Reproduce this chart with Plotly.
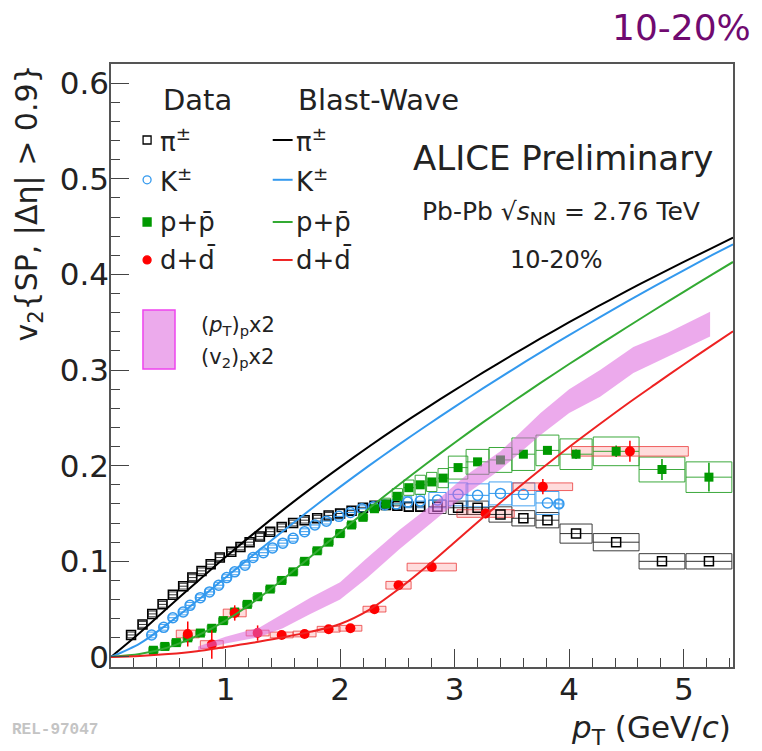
import plotly.graph_objects as go

# ---------------- data ----------------
pi_pt = [0.175, 0.275, 0.36, 0.45, 0.54, 0.63, 0.71, 0.79, 0.87, 0.95, 1.05, 1.13, 1.21, 1.30,
         1.39, 1.49, 1.59, 1.69, 1.80, 1.90, 2.00, 2.10, 2.20, 2.30, 2.40, 2.50, 2.60, 2.70,
         2.85, 3.03, 3.20, 3.40, 3.60, 3.81, 4.06, 4.41, 4.81, 5.22]
pi_v2 = [0.023, 0.034, 0.045, 0.055, 0.065, 0.074, 0.083, 0.090, 0.097, 0.104, 0.110, 0.115,
         0.120, 0.126, 0.131, 0.136, 0.140, 0.143, 0.145, 0.148, 0.150, 0.153, 0.156, 0.158,
         0.159, 0.158, 0.157, 0.157, 0.157, 0.156, 0.156, 0.149, 0.145, 0.143, 0.129, 0.120,
         0.100, 0.100]
pi_sys = [0.003] * 20 + [0.004] * 8 + [0.007, 0.007, 0.007, 0.008, 0.008, 0.008, 0.010, 0.009,
                                       0.008, 0.008]
pi_bw = [0.07] * 28 + [0.15, 0.17, 0.19, 0.2, 0.2, 0.2, 0.28, 0.4, 0.4, 0.4]

k_pt = [0.355, 0.46, 0.54, 0.63, 0.69, 0.78, 0.86, 0.94, 1.01, 1.08, 1.17, 1.24, 1.33, 1.41,
        1.50, 1.59, 1.69, 1.78, 1.88, 1.99, 2.09, 2.19, 2.29, 2.39, 2.49, 2.59, 2.70, 2.85,
        3.03, 3.20, 3.40, 3.60, 3.81, 3.91]
k_v2 = [0.023, 0.031, 0.041, 0.047, 0.054, 0.062, 0.068, 0.075, 0.083, 0.089, 0.096, 0.104,
        0.109, 0.114, 0.119, 0.124, 0.131, 0.138, 0.142, 0.147, 0.151, 0.155, 0.157, 0.159,
        0.160, 0.162, 0.163, 0.164, 0.170, 0.169, 0.171, 0.170, 0.161, 0.160]
k_sys = [0.003] * 24 + [0.005, 0.006, 0.007, 0.008, 0.012, 0.012, 0.012, 0.012, 0.012, 0.004]
k_bw = [0.07] * 27 + [0.15, 0.17, 0.2, 0.2, 0.2, 0.2, 0.06]

p_pt = [0.37, 0.47, 0.57, 0.67, 0.78, 0.88, 0.98, 1.08, 1.19, 1.28, 1.39, 1.49, 1.59, 1.69,
        1.80, 1.90, 2.00, 2.10, 2.20, 2.30, 2.40, 2.50, 2.60, 2.70, 2.80, 2.90, 3.03, 3.20,
        3.40, 3.60, 3.81, 4.06, 4.41, 4.81, 5.22]
p_v2 = [0.007, 0.011, 0.015, 0.020, 0.025, 0.030, 0.038, 0.047, 0.055, 0.063, 0.071, 0.080,
        0.089, 0.100, 0.111, 0.120, 0.129, 0.138, 0.146, 0.155, 0.160, 0.168, 0.177, 0.180,
        0.183, 0.187, 0.198, 0.204, 0.206, 0.212, 0.216, 0.212, 0.215, 0.196, 0.188]
p_stat = [0.0] * 31 + [0.005, 0.006, 0.011, 0.015]
p_sys = [0.003] * 20 + [0.006, 0.008, 0.008, 0.010, 0.010, 0.010, 0.012, 0.013, 0.013, 0.017,
                        0.016, 0.016, 0.015, 0.013, 0.016]
p_bw = [0.08] * 21 + [0.09, 0.09, 0.09, 0.09, 0.09, 0.17, 0.2, 0.2, 0.2, 0.2, 0.28, 0.4, 0.4, 0.4]

d_pt = [0.67, 0.88, 1.08, 1.28, 1.49, 1.69, 1.90, 2.09, 2.30, 2.51, 2.80, 3.27, 3.77, 4.53]
d_v2 = [0.024, 0.013, 0.046, 0.025, 0.023, 0.024, 0.029, 0.030, 0.050, 0.075, 0.094, 0.150,
        0.178, 0.215]
d_stat = [0.013, 0.015, 0.008, 0.008, 0.004, 0.004, 0.004, 0.004, 0.004, 0.004, 0.004, 0.005,
          0.008, 0.011]
d_sys = [0.004, 0.004, 0.004, 0.003, 0.003, 0.003, 0.003, 0.003, 0.003, 0.004, 0.004, 0.004,
         0.004, 0.005]
d_bw = [0.2] * 9 + [0.22, 0.43, 0.5, 0.52, 1.02]

bw_pt = [0, 0.25, 0.5, 0.75, 1.0, 1.25, 1.5, 1.75, 2.0, 2.25, 2.5, 2.75, 3.0, 3.25, 3.5, 3.75,
         4.0, 4.25, 4.5, 4.75, 5.0, 5.25, 5.43]
bw_pi = [0, 0.025, 0.052, 0.0785, 0.1045, 0.1295, 0.1535, 0.1765, 0.1985, 0.2198, 0.2403,
         0.2600, 0.2790, 0.2975, 0.3155, 0.3330, 0.3500, 0.3665, 0.3825, 0.3980, 0.4130,
         0.4278, 0.4385]
bw_k = [0, 0.014, 0.035, 0.0585, 0.083, 0.1075, 0.1315, 0.155, 0.1778, 0.1998, 0.2210, 0.2415,
        0.2615, 0.2810, 0.3000, 0.3185, 0.3365, 0.3540, 0.3712, 0.3880, 0.4043, 0.4203, 0.4315]
bw_p = [0, 0.003, 0.010, 0.022, 0.038, 0.058, 0.081, 0.1055, 0.1305, 0.155, 0.1788, 0.2018,
        0.2240, 0.2455, 0.2663, 0.2865, 0.3063, 0.3255, 0.3445, 0.3633, 0.3818, 0.4000, 0.4130]
bw_d = [0, 0.001, 0.003, 0.006, 0.0105, 0.015, 0.0205, 0.0265, 0.0345, 0.0490, 0.0700,
        0.0940, 0.1200, 0.1460, 0.1715, 0.1960, 0.2195, 0.2420, 0.2640, 0.2850, 0.3058,
        0.3260, 0.3405]

band_pt = [0.76, 1.0, 1.3, 1.5, 1.74, 2.0, 2.23, 2.52, 2.81, 3.1, 3.4, 3.75, 4.0, 4.27, 4.56,
           4.86, 5.23]
band_lo = [0.007, 0.014, 0.021, 0.030, 0.045, 0.060, 0.082, 0.113, 0.142, 0.170, 0.196, 0.232,
           0.255, 0.272, 0.297, 0.314, 0.335]
band_hi = [0.011, 0.021, 0.031, 0.045, 0.062, 0.078, 0.103, 0.133, 0.160, 0.190, 0.215, 0.255,
           0.280, 0.300, 0.324, 0.339, 0.361]

x_ticks = [1, 2, 3, 4, 5]
y_ticks = [0, 0.1, 0.2, 0.3, 0.4, 0.5, 0.6]
y_ticktext = ["0", "0.1", "0.2", "0.3", "0.4", "0.5", "0.6"]

# ---------------- styles ----------------
C_PI = "#000000"
C_K = "#3399ee"
C_P = "#009900"
C_D = "#ff0000"
C_BWP = "#33aa33"
C_BWD = "#ee2222"
BAND = "rgba(220,100,220,0.55)"

fig = go.Figure()


def sys_boxes(x, y, s, w, line, fill):
    return go.Bar(x=x, y=[2 * v for v in s], base=[a - b for a, b in zip(y, s)], width=w,
                  marker=dict(color=fill, line=dict(color=line, width=1)),
                  showlegend=False, hoverinfo="skip")


fig.add_trace(sys_boxes(pi_pt, pi_v2, pi_sys, pi_bw, "rgba(40,40,40,0.9)", "rgba(0,0,0,0)"))
fig.add_trace(sys_boxes(k_pt, k_v2, k_sys, k_bw, "rgba(51,153,238,0.9)", "rgba(0,0,0,0)"))
fig.add_trace(sys_boxes(p_pt, p_v2, p_sys, p_bw, "rgba(40,160,40,0.9)", "rgba(0,0,0,0)"))
fig.add_trace(sys_boxes(d_pt, d_v2, d_sys, d_bw, "rgba(235,60,60,0.8)", "rgba(255,80,80,0.2)"))

# data points
fig.add_trace(go.Scatter(x=pi_pt, y=pi_v2, mode="markers",
                         marker=dict(symbol="square-open", size=9, color=C_PI,
                                     line=dict(width=1.5, color=C_PI)),
                         error_x=dict(type="data", array=[w / 2 for w in pi_bw], width=0,
                                      thickness=1, color="#333"),
                         showlegend=False))
fig.add_trace(go.Scatter(x=k_pt, y=k_v2, mode="markers",
                         marker=dict(symbol="circle-open", size=10, color=C_K,
                                     line=dict(width=1.5, color=C_K)),
                         error_x=dict(type="data", array=[w / 2 for w in k_bw], width=0,
                                      thickness=1, color=C_K),
                         showlegend=False))
fig.add_trace(go.Scatter(x=p_pt, y=p_v2, mode="markers",
                         marker=dict(symbol="square", size=9, color=C_P),
                         error_y=dict(type="data", array=p_stat, width=0, thickness=1.5,
                                      color=C_P),
                         error_x=dict(type="data", array=[w / 2 for w in p_bw], width=0,
                                      thickness=1, color="rgba(40,160,40,0.9)"),
                         showlegend=False))
fig.add_trace(go.Scatter(x=d_pt, y=d_v2, mode="markers",
                         marker=dict(symbol="circle", size=10, color=C_D),
                         error_y=dict(type="data", array=d_stat, width=0, thickness=1.5,
                                      color=C_D),
                         showlegend=False))

# blast-wave curves
for yv, col in [(bw_pi, C_PI), (bw_k, C_K), (bw_p, C_BWP), (bw_d, C_BWD)]:
    fig.add_trace(go.Scatter(x=bw_pt, y=yv, mode="lines",
                             line=dict(color=col, width=2, shape="spline", smoothing=0.8),
                             showlegend=False, hoverinfo="skip"))

# scaled-proton band
fig.add_trace(go.Scatter(x=band_pt + band_pt[::-1], y=band_hi + band_lo[::-1], mode="lines",
                         fill="toself", fillcolor=BAND,
                         line=dict(width=0, color="rgba(0,0,0,0)"),
                         showlegend=False, hoverinfo="skip"))

# ---------------- legend (drawn on a hidden [0,1] overlay axis) ----------------
leg_y = [0.874, 0.808, 0.738, 0.675]
leg_sym = ["square-open", "circle-open", "square", "circle"]
leg_col = [C_PI, C_K, C_P, C_D]
leg_line_col = [C_PI, C_K, C_BWP, C_BWD]
leg_txt = ["π<sup>±</sup>", "K<sup>±</sup>", "p+p̄", "d+d̄"]

for yy, sy, c, lc in zip(leg_y, leg_sym, leg_col, leg_line_col):
    fig.add_trace(go.Scatter(x=[0.058], y=[yy], mode="markers", xaxis="x2", yaxis="y2",
                             marker=dict(symbol=sy, size=8, color=c,
                                         line=dict(width=1.3, color=c)),
                             showlegend=False, hoverinfo="skip"))
    fig.add_trace(go.Scatter(x=[0.260, 0.292], y=[yy, yy], mode="lines", xaxis="x2",
                             yaxis="y2", line=dict(color=lc, width=2),
                             showlegend=False, hoverinfo="skip"))

annotations = []
FONT = "DejaVu Sans, Verdana, sans-serif"


def ann(text, x, y, size, xanchor="left", yanchor="middle", color="#222", **kw):
    annotations.append(dict(text=text, x=x, y=y, xref="paper", yref="paper", showarrow=False,
                            xanchor=xanchor, yanchor=yanchor,
                            font=dict(family=kw.pop("family", FONT), size=size, color=color),
                            **kw))


ann("Data", 0.080, 0.940, 29)
ann("Blast-Wave", 0.298, 0.940, 29)
for yy, t in zip(leg_y, leg_txt):
    ann(t, 0.076, yy, 26)
    ann(t, 0.294, yy, 26)

ann("(<i>p</i><sub>T</sub>)<sub>p</sub>x2", 0.141, 0.566, 21)
ann("(v<sub>2</sub>)<sub>p</sub>x2", 0.141, 0.512, 21)

ann("ALICE Preliminary", 0.727, 0.844, 34, xanchor="center")
ann("Pb-Pb √<i>s</i><sub>NN</sub> = 2.76 TeV", 0.724, 0.753, 25, xanchor="center")
ann("10-20%", 0.717, 0.675, 24, xanchor="center")

ann("10-20%", 0.918, 1.061, 36, xanchor="center", color="#700a70")

ann("<i>p</i><sub>T</sub> (GeV/<i>c</i>)", 1.0, -0.103, 31, xanchor="right")
ann("v<sub>2</sub>{SP, |Δη| > 0.9}", -0.133, 1.002, 30, xanchor="center", yanchor="top",
    textangle=-90)
ann("<b>REL-97047</b>", -0.163, -0.104, 16, color="#c4c4c4",
    family="Liberation Mono, Courier New, monospace")

fig.update_layout(
    width=754, height=743,
    margin=dict(l=103, r=29, t=56, b=84),
    plot_bgcolor="white", paper_bgcolor="white",
    barmode="overlay", showlegend=False,
    font=dict(family=FONT, color="#222"),
    annotations=annotations,
    xaxis=dict(range=[0, 5.43], tickmode="array", tickvals=x_ticks, ticks="inside", ticklen=18,
               tickwidth=1.3, tickcolor="#444", showline=True, linecolor="#555", linewidth=1.5,
               mirror=True, showgrid=False, zeroline=False, ticklabelstandoff=-6,
               tickfont=dict(size=31, color="#222"),
               minor=dict(tick0=0, dtick=0.2, ticks="inside", ticklen=9, tickwidth=1.2,
                          tickcolor="#444", showgrid=False)),
    yaxis=dict(range=[-0.0105, 0.62], tickmode="array", tickvals=y_ticks, ticktext=y_ticktext,
               ticks="inside", ticklen=18, tickwidth=1.3, tickcolor="#444", showline=True,
               linecolor="#555", linewidth=1.5, mirror=True, showgrid=False, zeroline=False,
               ticklabelstandoff=-6,
               tickfont=dict(size=31, color="#222"),
               minor=dict(tick0=0, dtick=0.02, ticks="inside", ticklen=9, tickwidth=1.2,
                          tickcolor="#444", showgrid=False)),
    xaxis2=dict(range=[0, 1], overlaying="x", visible=False, fixedrange=True),
    yaxis2=dict(range=[0, 1], overlaying="y", visible=False, fixedrange=True),
    shapes=[dict(type="rect", xref="paper", yref="paper", x0=0.0514, x1=0.1029, y0=0.494,
                 y1=0.592, fillcolor=BAND, line=dict(color="#ee44ee", width=1.5))],
)

fig.write_html("out.html")
